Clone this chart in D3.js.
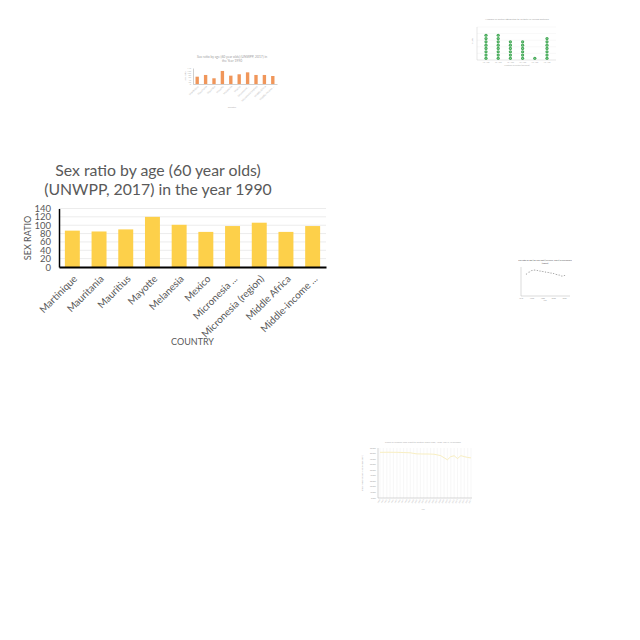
<!DOCTYPE html>
<html><head><meta charset="utf-8">
<script src="https://cdn.jsdelivr.net/npm/d3@7"></script>
<style>body{margin:0;background:#fff}svg{display:block}text{font-family:Lato,"Open Sans",sans-serif}</style>
</head><body><div id="c"></div>
<script>
// ---- Main chart data ----
const countries = ["Martinique","Mauritania","Mauritius","Mayotte","Melanesia","Mexico","Micronesia ...","Micronesia (region)","Middle Africa","Middle-income ..."];
const sexRatio1990 = [87, 85, 90, 120, 101, 84, 98, 106, 84, 98];
const yTicks = [0,20,40,60,80,100,120,140];
const titleLines = ["Sex ratio by age (60 year olds)","(UNWPP, 2017) in the year 1990"];

// ---- Thumbnail (orange) chart data ----
const orangeVals = [64, 79, 50, 114, 73, 85, 102, 79, 79, 70];
const orangeTitle = ["Sex ratio by age (60 year olds) (UNWPP, 2017) in","the Year 1990"];

// ---- Thumbnail (green dot) chart data ----
const dotCats = ["10–100","10–100","10–100","10–100","10–100","10–100"];
const dotCounts = [8, 8, 6, 6, 1, 7];

// ---- Thumbnail (grey line) chart data ----
const greyYears = [1950,1955,1960,1965,1970,1975,1980,1985,1990,1995,2000,2005,2010,2015,2020];
const greyVals = [88, 92, 95, 96, 95, 94, 93, 92, 91, 90, 89, 87, 86, 84, 85];

// ---- Thumbnail (yellow line) chart data ----
const yellowYears = [1990,1991,1992,1993,1994,1995,1996,1997,1998,1999,2000,2001,2002,2003,2004,2005,2006,2007,2008,2009,2010,2011,2012,2013,2014,2015,2016,2017];
const yellowVals = [82.2,82.2,82.3,82.3,82.2,82.2,82.0,81.8,81.6,81.4,80.2,79.4,79.3,79.2,79.2,79.0,78.8,77.6,76.2,72.5,68.8,74.5,76.0,71.0,76.2,74.5,73.0,72.2];

const svg = d3.select("#c").append("svg").attr("width",640).attr("height",640);
svg.append("rect").attr("width",640).attr("height",640).attr("fill","#fff");
const grey = "#595959";

// ================= MAIN CHART =================
{
  const g = svg.append("g");
  const x = d3.scaleBand().domain(countries).range([59,326]).paddingInner(0.44).paddingOuter(0.22);
  const y = d3.scaleLinear().domain([0,140]).range([267,208.5]);

  g.selectAll(".grid").data(yTicks.slice(1)).join("line")
    .attr("x1",59).attr("x2",326).attr("y1",d=>y(d)).attr("y2",d=>y(d))
    .attr("stroke","#ececec").attr("stroke-width",1);

  g.selectAll(".bar").data(countries).join("rect")
    .attr("x",d=>x(d)).attr("width",x.bandwidth())
    .attr("y",(d,i)=>y(sexRatio1990[i])).attr("height",(d,i)=>y(0)-y(sexRatio1990[i]))
    .attr("fill","#FDD04A");

  const ya = g.append("g").attr("transform","translate(59,0)")
    .call(d3.axisLeft(y).tickValues(yTicks).tickSize(0).tickSizeOuter(0).tickPadding(8));
  ya.select(".domain").attr("stroke","#000").attr("stroke-width",1.5);
  ya.selectAll("text").attr("fill",grey).style("font-size","9.5px");

  const xa = g.append("g").attr("transform","translate(0,267)")
    .call(d3.axisBottom(x).tickSize(0).tickSizeOuter(0));
  xa.select(".domain").attr("stroke","#000").attr("stroke-width",2);
  xa.selectAll("text").attr("y",0).attr("dy","0.35em").attr("text-anchor","end")
    .attr("transform","translate(3,10) rotate(-45)")
    .attr("fill",grey).style("font-size","10px");

  g.append("text").attr("transform","translate(31,238) rotate(-90)").attr("text-anchor","middle")
    .attr("fill",grey).style("font-size","9px").text("SEX RATIO");
  g.append("text").attr("x",192.5).attr("y",345).attr("text-anchor","middle")
    .attr("fill",grey).style("font-size","9px").text("COUNTRY");

  g.selectAll(".title").data(titleLines).join("text")
    .attr("x",158).attr("y",(d,i)=>176+i*18.5).attr("text-anchor","middle")
    .attr("fill",grey).style("font-size","15.8px").text(d=>d);
}

// ================= ORANGE THUMBNAIL =================
{
  const g = svg.append("g").attr("opacity",0.8);
  const x = d3.scaleBand().domain(countries).range([193,277]).paddingInner(0.6).paddingOuter(0.3);
  const y = d3.scaleLinear().domain([0,140]).range([84,68]);
  g.selectAll("rect").data(countries).join("rect")
    .attr("x",d=>x(d)).attr("width",x.bandwidth())
    .attr("y",(d,i)=>y(orangeVals[i])).attr("height",(d,i)=>y(0)-y(orangeVals[i]))
    .attr("fill","#ED7D31");
  const ya = g.append("g").attr("transform","translate(193,0)")
    .call(d3.axisLeft(y).tickValues([0,20,40,60,80,100,120,140]).tickSize(0).tickPadding(2));
  ya.select(".domain").attr("stroke","#888").attr("stroke-width",0.5);
  ya.selectAll("text").attr("fill","#aaa").style("font-size","2.2px");
  const xa = g.append("g").attr("transform","translate(0,84)").call(d3.axisBottom(x).tickSize(0));
  xa.select(".domain").attr("stroke","#888").attr("stroke-width",0.5);
  xa.selectAll("text").attr("y",0).attr("dy","0.35em").attr("text-anchor","end")
    .attr("transform","translate(1,2) rotate(-45)").attr("fill","#aaa").style("font-size","2.6px");
  g.selectAll(".t").data(orangeTitle).join("text").attr("x",232).attr("y",(d,i)=>58+i*4)
    .attr("text-anchor","middle").attr("fill","#888").style("font-size","3.3px").text(d=>d);
  g.append("text").attr("transform","translate(186,76) rotate(-90)").attr("text-anchor","middle")
    .attr("fill","#999").style("font-size","2.4px").text("Sex ratio");
  g.append("text").attr("x",232).attr("y",108).attr("text-anchor","middle")
    .attr("fill","#999").style("font-size","2.4px").text("Country");
}

// ================= GREEN DOT THUMBNAIL =================
{
  const g = svg.append("g").attr("opacity",0.9);
  const idx = dotCats.map((d,i)=>i);
  const x = d3.scalePoint().domain(idx).range([486,547]);
  const y = d3.scaleLinear().domain([0,10]).range([60,27]);
  [2,4,6,8,10].forEach(t=>g.append("line").attr("x1",477).attr("x2",556).attr("y1",y(t)).attr("y2",y(t)).attr("stroke","#eee").attr("stroke-width",0.4));
  g.append("line").attr("x1",477).attr("x2",477).attr("y1",27).attr("y2",60).attr("stroke","#bbb").attr("stroke-width",0.4);
  g.append("line").attr("x1",477).attr("x2",556).attr("y1",60).attr("y2",60).attr("stroke","#bbb").attr("stroke-width",0.4);
  idx.forEach(i=>{
    d3.range(dotCounts[i]).forEach(k=>{
      g.append("circle").attr("cx",x(i)).attr("cy",y(k+0.5)).attr("r",1.6).attr("fill","#2f9e44");
      g.append("circle").attr("cx",x(i)).attr("cy",y(k+0.5)).attr("r",0.6).attr("fill","#7fd18f");
    });
    g.append("text").attr("x",x(i)).attr("y",63).attr("text-anchor","middle").attr("fill","#aaa").style("font-size","2px").text(dotCats[i]);
  });
  g.append("text").attr("x",517).attr("y",20).attr("text-anchor","middle").attr("fill","#999").style("font-size","2.6px").text("Number of births attributed to fertility in young mothers");
  g.append("text").attr("x",517).attr("y",66).attr("text-anchor","middle").attr("fill","#aaa").style("font-size","2.2px").text("Fraction of births (percent)");
  g.append("text").attr("transform","translate(473,41) rotate(-90)").attr("text-anchor","middle").attr("fill","#777").style("font-size","2.4px").text("Num");
}

// ================= GREY LINE THUMBNAIL =================
{
  const g = svg.append("g").attr("opacity",0.85);
  const x = d3.scaleLinear().domain([1940,2030]).range([521,570]);
  const y = d3.scaleLinear().domain([44,102]).range([296,267]);
  g.append("line").attr("x1",521).attr("x2",521).attr("y1",267).attr("y2",296).attr("stroke","#999").attr("stroke-width",0.4);
  g.append("line").attr("x1",521).attr("x2",570).attr("y1",296).attr("y2",296).attr("stroke","#999").attr("stroke-width",0.4);
  g.append("path").datum(greyYears.map((d,i)=>[d,greyVals[i]]))
    .attr("d",d3.line().x(d=>x(d[0])).y(d=>y(d[1]))).attr("fill","none").attr("stroke","#bbb").attr("stroke-width",0.4).attr("stroke-dasharray","1,1");
  g.selectAll(".p").data(greyYears).join("circle").attr("cx",d=>x(d)).attr("cy",(d,i)=>y(greyVals[i])).attr("r",0.6).attr("fill","#888");
  g.append("text").attr("x",545).attr("y",261).attr("text-anchor","middle").attr("fill","#555").style("font-size","2px").style("font-weight","bold").text("Sex ratio by age (60 year olds) (UNWPP, 2017) in Micronesia");
  g.append("text").attr("x",545).attr("y",263.5).attr("text-anchor","middle").attr("fill","#555").style("font-size","2px").style("font-weight","bold").text("(region)");
  [1940,1960,1980,2000,2020].forEach(t=>g.append("text").attr("x",x(t)).attr("y",298.5).attr("text-anchor","middle").attr("fill","#888").style("font-size","1.8px").text(t));
  g.append("text").attr("x",545).attr("y",301).attr("text-anchor","middle").attr("fill","#888").style("font-size","1.8px").text("Year");
}

// ================= YELLOW LINE THUMBNAIL =================
{
  const g = svg.append("g").attr("opacity",0.8);
  const x = d3.scalePoint().domain(yellowYears).range([380,471]);
  const y = d3.scaleLinear().domain([0,90]).range([498,448]);
  yellowYears.forEach(d=>g.append("line").attr("x1",x(d)).attr("x2",x(d)).attr("y1",448).attr("y2",498).attr("stroke","#e8e8e8").attr("stroke-width",0.4));
  g.append("line").attr("x1",378).attr("x2",378).attr("y1",448).attr("y2",498).attr("stroke","#999").attr("stroke-width",0.5);
  g.append("line").attr("x1",378).attr("x2",472).attr("y1",498).attr("y2",498).attr("stroke","#999").attr("stroke-width",0.5);
  d3.range(0,100,10).forEach(t=>g.append("text").attr("x",376).attr("y",y(t)+0.6).attr("text-anchor","end").attr("fill","#888").style("font-size","1.8px").text(t+".00%"));
  g.append("path").datum(yellowYears.map((d,i)=>[d,yellowVals[i]]))
    .attr("d",d3.line().x(d=>x(d[0])).y(d=>y(d[1]))).attr("fill","none").attr("stroke","#f5e6a0").attr("stroke-width",0.8);
  yellowYears.forEach(d=>g.append("text").attr("transform",`translate(${x(d)+0.5},500) rotate(-60)`).attr("text-anchor","end").attr("fill","#999").style("font-size","1.7px").text(d));
  g.append("text").attr("x",423).attr("y",443).attr("text-anchor","middle").attr("fill","#999").style("font-size","2.4px").text("Share of women who want to control family size, 1990–2017, in Sweden");
  g.append("text").attr("x",423).attr("y",510).attr("text-anchor","middle").attr("fill","#999").style("font-size","1.8px").text("Year");
  g.append("text").attr("transform","translate(363,473) rotate(-90)").attr("text-anchor","middle").attr("fill","#999").style("font-size","1.6px").text("Share of women who want to control family size (%)");
}
</script></body></html>
